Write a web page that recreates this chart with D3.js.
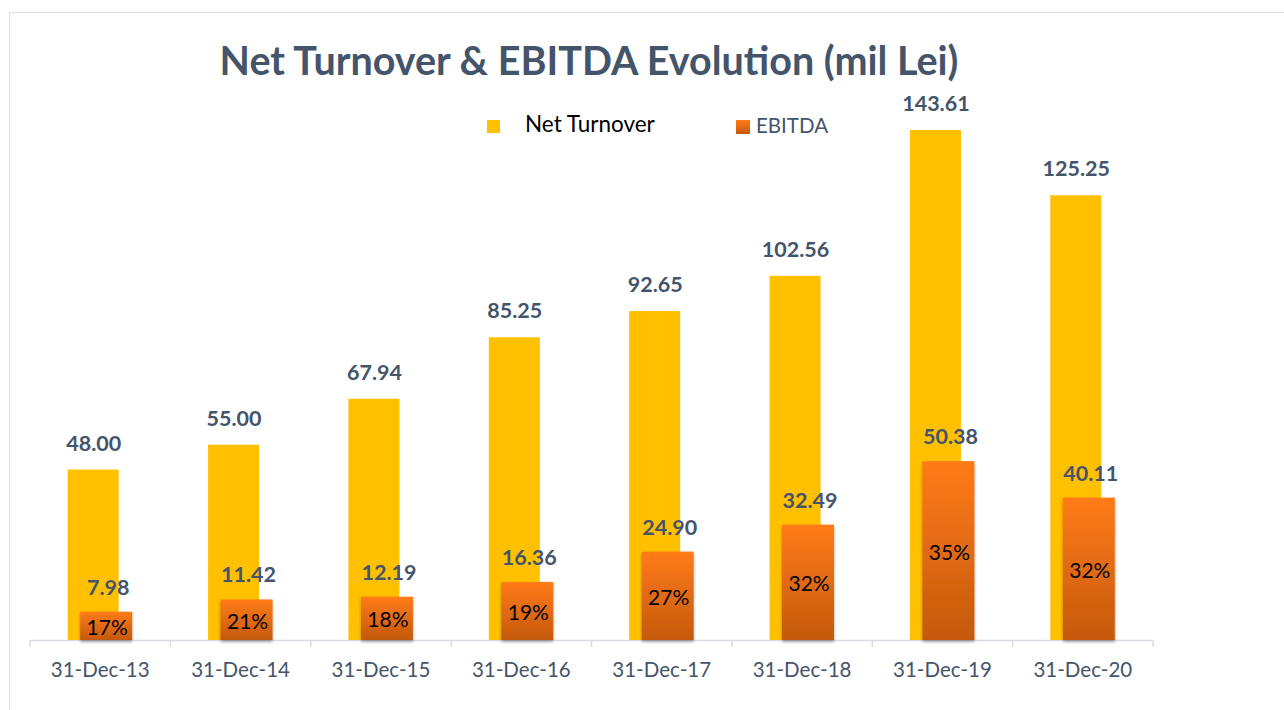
<!DOCTYPE html>
<html>
<head>
<meta charset="utf-8">
<script src="https://cdnjs.cloudflare.com/ajax/libs/d3/7.8.5/d3.min.js"></script>
<style>
  body { margin: 0; background: #fff; }
  svg text { font-family: Lato, "Open Sans", sans-serif; }
</style>
</head>
<body>
<div id="chart"></div>
<script>
// Net Turnover & EBITDA bar chart

const categories = ['31-Dec-13', '31-Dec-14', '31-Dec-15', '31-Dec-16', '31-Dec-17', '31-Dec-18', '31-Dec-19', '31-Dec-20'];
const turnover = [48.00, 55.00, 67.94, 85.25, 92.65, 102.56, 143.61, 125.25];
const ebitda = [7.98, 11.42, 12.19, 16.36, 24.90, 32.49, 50.38, 40.11];
const margins = ['17%', '21%', '18%', '19%', '27%', '32%', '35%', '32%'];

const W = 1284, H = 710;
const labelColor = '#44546A';

const svg = d3.select('#chart')
    .append('svg')
    .attr('width', W)
    .attr('height', H);

const defs = svg.append('defs');
const grad = defs.append('linearGradient')
    .attr('id', 'orangeGrad')
    .attr('x1', 0).attr('y1', 0).attr('x2', 0).attr('y2', 1);
grad.append('stop').attr('offset', '0%').attr('stop-color', '#FF7B16');
grad.append('stop').attr('offset', '100%').attr('stop-color', '#C4590F');

const shadow = defs.append('filter').attr('id', 'shadow')
    .attr('x', '-20%').attr('y', '-10%').attr('width', '140%').attr('height', '130%');
shadow.append('feDropShadow')
    .attr('dx', 0).attr('dy', 2).attr('stdDeviation', 1.5)
    .attr('flood-color', '#000').attr('flood-opacity', 0.35);

// chart frame
svg.append('rect')
    .attr('x', 9.5).attr('y', 12.5)
    .attr('width', W).attr('height', H)
    .attr('fill', 'none')
    .attr('stroke', '#DCE1E8');

// scales
const x = d3.scaleBand()
    .domain(categories)
    .range([30, 1153])
    .paddingInner(0)
    .paddingOuter(0);

const y = d3.scaleLinear()
    .domain([0, 160])
    .range([640, 640 - 160 * 3.551]);

const barW = 52;
const yOff = -6.5;   // turnover bar offset from band centre
const eOff = 6;      // ebitda bar offset from band centre

// axis
const xAxis = d3.axisBottom(x).tickSize(0).tickPadding(22);
const axisG = svg.append('g')
    .attr('transform', 'translate(0,640)')
    .call(xAxis);
axisG.select('.domain').attr('stroke', '#D9DCE2').attr('stroke-width', 1.5);
axisG.selectAll('.tick text')
    .attr('fill', labelColor)
    .style('font-size', '20.5px');

// category separator ticks
svg.append('g')
    .selectAll('line')
    .data(categories.concat(['end']))
    .enter()
    .append('line')
    .attr('x1', (d, i) => 30 + i * x.bandwidth())
    .attr('x2', (d, i) => 30 + i * x.bandwidth())
    .attr('y1', 640)
    .attr('y2', 647)
    .attr('stroke', '#D9DCE2')
    .attr('stroke-width', 1.5);

// turnover bars
svg.selectAll('.bar-t')
    .data(turnover)
    .enter()
    .append('rect')
    .attr('class', 'bar-t')
    .attr('x', (d, i) => x(categories[i]) + x.bandwidth() / 2 + yOff - barW / 2)
    .attr('y', d => y(d))
    .attr('width', barW - 1)
    .attr('height', d => y(0) - y(d))
    .attr('fill', '#FFC000');

// ebitda bars
svg.selectAll('.bar-e')
    .data(ebitda)
    .enter()
    .append('rect')
    .attr('class', 'bar-e')
    .attr('x', (d, i) => x(categories[i]) + x.bandwidth() / 2 + eOff - barW / 2)
    .attr('y', d => y(d))
    .attr('width', barW)
    .attr('height', d => y(0) - y(d))
    .attr('fill', 'url(#orangeGrad)')
    .attr('filter', 'url(#shadow)');

// turnover labels
svg.selectAll('.lab-t')
    .data(turnover)
    .enter()
    .append('text')
    .attr('x', (d, i) => x(categories[i]) + x.bandwidth() / 2 + yOff)
    .attr('y', d => y(d) - 19)
    .attr('text-anchor', 'middle')
    .attr('fill', labelColor)
    .style('font-size', '21.5px')
    .style('font-weight', 'bold')
    .text(d => d.toFixed(2));

// ebitda labels
svg.selectAll('.lab-e')
    .data(ebitda)
    .enter()
    .append('text')
    .attr('x', (d, i) => x(categories[i]) + x.bandwidth() / 2 + eOff + 2)
    .attr('y', d => y(d) - 17)
    .attr('text-anchor', 'middle')
    .attr('fill', labelColor)
    .style('font-size', '21.5px')
    .style('font-weight', 'bold')
    .text(d => d.toFixed(2));

// margin % labels inside ebitda bars
svg.selectAll('.lab-p')
    .data(margins)
    .enter()
    .append('text')
    .attr('x', (d, i) => x(categories[i]) + x.bandwidth() / 2 + eOff + 1)
    .attr('y', (d, i) => (y(ebitda[i]) + y(0)) / 2 + 9)
    .attr('text-anchor', 'middle')
    .attr('fill', '#000')
    .style('font-size', '21px')
    .text(d => d);

// title
svg.append('text')
    .attr('x', 589)
    .attr('y', 75)
    .attr('text-anchor', 'middle')
    .attr('fill', labelColor)
    .style('font-size', '39.5px')
    .style('font-weight', 'bold')
    .text('Net Turnover & EBITDA Evolution (mil Lei)');

// legend
const legend = svg.append('g');
legend.append('rect')
    .attr('x', 487).attr('y', 120).attr('width', 13).attr('height', 13)
    .attr('fill', '#FFC000');
legend.append('text')
    .attr('x', 525).attr('y', 132)
    .attr('fill', '#000')
    .style('font-size', '22.5px')
    .text('Net Turnover');
legend.append('rect')
    .attr('x', 736).attr('y', 120).attr('width', 14).attr('height', 14)
    .attr('fill', 'url(#orangeGrad)');
legend.append('text')
    .attr('x', 756).attr('y', 133)
    .attr('fill', labelColor)
    .style('font-size', '20.5px')
    .text('EBITDA');
</script>
</body>
</html>
